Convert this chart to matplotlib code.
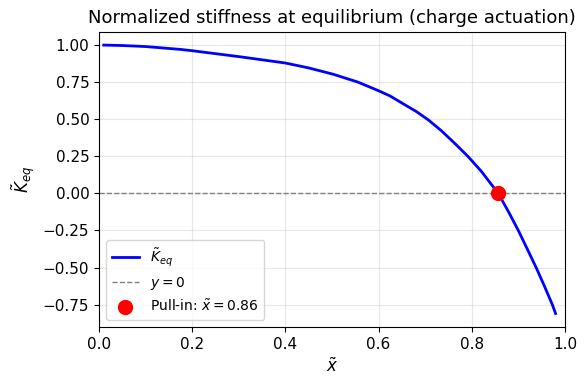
import matplotlib
matplotlib.use("Agg")
import matplotlib.pyplot as plt

# values
x_tilde = [0.01, 0.05, 0.1, 0.174, 0.2, 0.303, 0.4, 0.45, 0.503, 0.556, 0.6,
           0.624, 0.653, 0.682, 0.707, 0.735, 0.765, 0.792, 0.82, 0.857,
           0.88, 0.9, 0.92, 0.939, 0.956, 0.973, 0.98]
k_eq = [1.0, 0.997, 0.99, 0.971, 0.962, 0.921, 0.879, 0.846, 0.803, 0.75, 0.692,
        0.658, 0.604, 0.55, 0.495, 0.422, 0.333, 0.249, 0.151, 0.0,
        -0.13, -0.25, -0.38, -0.505, -0.625, -0.75, -0.81]

pull_in_x = 0.857
pull_in_y = 0.0

fig = plt.figure(figsize=(5.86, 3.86), dpi=100)
ax = fig.add_axes([0.169, 0.153, 0.795, 0.765])

ax.plot(x_tilde, k_eq, color='blue', lw=2, label=r'$\tilde{K}_{eq}$')
ax.axhline(0, color='gray', ls='--', lw=1, label=r'$y=0$')
ax.plot(pull_in_x, pull_in_y, 'o', color='red', markersize=10,
        label=r'Pull-in: $\tilde{x}=0.86$')

ax.set_xlim(0, 1)
ax.set_xlabel(r'$\tilde{x}$', fontsize=12)
ax.set_ylabel(r'$\tilde{K}_{eq}$', fontsize=12)
ax.set_title('Normalized stiffness at equilibrium (charge actuation)', fontsize=13)
ax.tick_params(labelsize=11)
ax.grid(True, alpha=0.3)
ax.legend(loc='lower left', fontsize=10)

fig.savefig('out.png', dpi=100)
